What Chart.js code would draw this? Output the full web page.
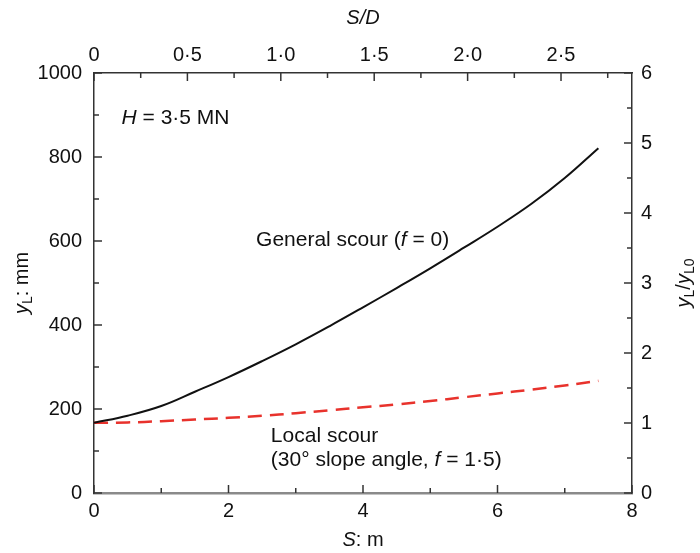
<!DOCTYPE html>
<html>
<head>
<meta charset="utf-8">
<script src="https://cdn.jsdelivr.net/npm/chart.js@4"></script>
<style>
  body { margin: 0; background: #fff; }
  #wrap { width: 700px; height: 553px; }
</style>
</head>
<body>
<div id="wrap"><canvas id="grafico"></canvas></div>
<script>
// S in metres
const S = [0, 0.5, 1, 1.5, 2, 2.5, 3, 3.5, 4, 4.5, 5, 5.5, 6, 6.5, 7, 7.5];
// y_L in mm
const generalScour = [167, 184, 207, 241, 276, 314, 354, 397, 442, 488, 535, 584, 634, 688, 750, 821];
const localScour = [167, 168, 171, 175, 179, 184, 190, 197, 204, 211, 219, 228, 237, 246, 256, 267];

const xTicks = [0, 2, 4, 6, 8];
const yTicks = [0, 200, 400, 600, 800, 1000];
const sdTicks = [0, 0.5, 1.0, 1.5, 2.0, 2.5];
const ratioTicks = [0, 1, 2, 3, 4, 5, 6];

const FONT = '"Liberation Sans", Arial, sans-serif';
const AXIS = '#333';
const TXT = 21;

function pontos(ys) {
  return S.map((s, i) => ({ x: s, y: ys[i] }));
}

function dec(v) {
  return v === 0 ? '0' : v.toFixed(1).replace('.', '·');
}

// inward ticks, major + minor
const marcas = {
  id: 'marcas',
  afterDraw(chart) {
    const c = chart.ctx, a = chart.chartArea, sc = chart.scales;
    c.save();
    c.strokeStyle = AXIS;
    c.lineWidth = 1.5;
    function linha(x1, y1, x2, y2) {
      c.beginPath(); c.moveTo(x1, y1); c.lineTo(x2, y2); c.stroke();
    }
    for (let v = 0; v <= 8; v += 1) {
      const px = sc.x.getPixelForValue(v);
      const len = v % 2 === 0 ? 8 : 5;
      linha(px, a.bottom, px, a.bottom - len);
    }
    for (let v = 0; v <= 2.76; v += 0.25) {
      const px = sc.x2.getPixelForValue(v);
      const len = Math.abs(v * 2 - Math.round(v * 2)) < 0.01 ? 8 : 5;
      linha(px, a.top, px, a.top + len);
    }
    for (let v = 0; v <= 1000; v += 100) {
      const py = sc.y.getPixelForValue(v);
      const len = v % 200 === 0 ? 8 : 5;
      linha(a.left, py, a.left + len, py);
    }
    for (let v = 0; v <= 6; v += 0.5) {
      const py = sc.y2.getPixelForValue(v);
      const len = v % 1 === 0 ? 8 : 5;
      linha(a.right, py, a.right - len, py);
    }
    c.restore();
  }
};

// axis titles and curve labels
const textos = {
  id: 'textos',
  afterDraw(chart) {
    const c = chart.ctx, a = chart.chartArea, sc = chart.scales;
    const mid = (a.left + a.right) / 2;
    c.save();
    c.fillStyle = '#111';
    c.textBaseline = 'middle';
    c.textAlign = 'left';

    function partes(lista, x, y) {
      // lista: [texto, italico, tamanho, deslocY]
      let px = x;
      lista.forEach(p => {
        c.font = (p[1] ? 'italic ' : '') + p[2] + 'px ' + FONT;
        c.fillText(p[0], px, y + (p[3] || 0));
        px += c.measureText(p[0]).width;
      });
    }
    function largura(lista) {
      let w = 0;
      lista.forEach(p => {
        c.font = (p[1] ? 'italic ' : '') + p[2] + 'px ' + FONT;
        w += c.measureText(p[0]).width;
      });
      return w;
    }

    const topo = [['S/D', true, 20]];
    partes(topo, mid - largura(topo) / 2, 18);
    const base = [['S', true, 20], [': m', false, 20]];
    partes(base, mid - largura(base) / 2, 540);

    const esq = [['y', true, 20], ['L', false, 14, 6], [': mm', false, 20]];
    c.save();
    c.translate(22, (a.top + a.bottom) / 2);
    c.rotate(-Math.PI / 2);
    partes(esq, -largura(esq) / 2, 0);
    c.restore();

    const dir = [['y', true, 20], ['L', false, 14, 6], ['/', false, 20], ['y', true, 20], ['L0', false, 14, 6]];
    c.save();
    c.translate(684, (a.top + a.bottom) / 2);
    c.rotate(-Math.PI / 2);
    partes(dir, -largura(dir) / 2, 0);
    c.restore();

    const X = v => sc.x.getPixelForValue(v);
    const Y = v => sc.y.getPixelForValue(v);
    partes([['H', true, TXT], [' = 3·5 MN', false, TXT]], X(0.41), Y(893));
    partes([['General scour (', false, TXT], ['f', true, TXT], [' = 0)', false, TXT]], X(2.41), Y(602));
    partes([['Local scour', false, TXT]], X(2.63), Y(136));
    partes([['(30° slope angle, ', false, TXT], ['f', true, TXT], [' = 1·5)', false, TXT]], X(2.63), Y(78));
    c.restore();
  }
};

function fixar(tam) {
  return function (scale) {
    if (scale.isHorizontal()) scale.height = tam; else scale.width = tam;
  };
}

const tickFont = { family: FONT, size: 20 };

new Chart(document.getElementById('grafico'), {
  type: 'line',
  data: {
    datasets: [
      {
        label: 'General scour (f = 0)',
        data: pontos(generalScour),
        borderColor: '#111',
        borderWidth: 2,
        pointRadius: 0,
        tension: 0.4,
        fill: false
      },
      {
        label: 'Local scour (30° slope angle, f = 1·5)',
        data: pontos(localScour),
        borderColor: '#e8322c',
        borderWidth: 2.5,
        borderDash: [14, 8],
        pointRadius: 0,
        tension: 0.4,
        fill: false
      }
    ]
  },
  options: {
    responsive: true,
    maintainAspectRatio: false,
    animation: false,
    layout: { padding: 0 },
    plugins: { legend: { display: false }, tooltip: { enabled: false } },
    scales: {
      x: {
        type: 'linear', position: 'bottom', min: 0, max: 8,
        afterFit: fixar(60),
        afterBuildTicks: s => { s.ticks = xTicks.map(v => ({ value: v })); },
        ticks: { font: tickFont, color: '#111', padding: 6, maxRotation: 0, callback: v => String(v) },
        grid: { display: false, drawTicks: false },
        border: { display: true, color: '#8a8a8a', width: 2.5 }
      },
      x2: {
        type: 'linear', position: 'top', min: 0, max: 2.88,
        afterFit: fixar(73),
        afterBuildTicks: s => { s.ticks = sdTicks.map(v => ({ value: v })); },
        ticks: { font: tickFont, color: '#111', padding: 6, maxRotation: 0, callback: v => dec(v) },
        grid: { display: false, drawTicks: false },
        border: { display: true, color: AXIS, width: 1.5 }
      },
      y: {
        type: 'linear', position: 'left', min: 0, max: 1000,
        afterFit: fixar(94),
        afterBuildTicks: s => { s.ticks = yTicks.map(v => ({ value: v })); },
        ticks: { font: tickFont, color: '#111', padding: 12, callback: v => String(v) },
        grid: { display: false, drawTicks: false },
        border: { display: true, color: AXIS, width: 1.5 }
      },
      y2: {
        type: 'linear', position: 'right', min: 0, max: 6,
        afterFit: fixar(68),
        afterBuildTicks: s => { s.ticks = ratioTicks.map(v => ({ value: v })); },
        ticks: { font: tickFont, color: '#111', padding: 9, callback: v => String(v) },
        grid: { display: false, drawTicks: false },
        border: { display: true, color: AXIS, width: 1.5 }
      }
    }
  },
  plugins: [marcas, textos]
});
</script>
</body>
</html>
